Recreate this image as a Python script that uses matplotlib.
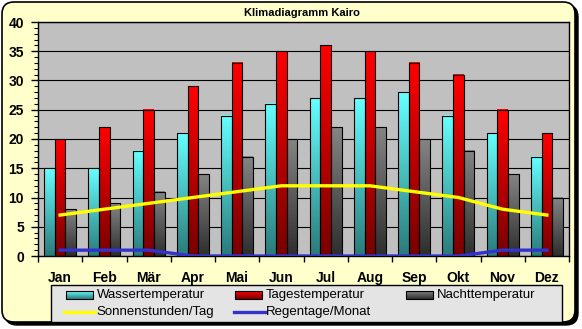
import numpy as np
import matplotlib
matplotlib.use("Agg")
import matplotlib.pyplot as plt
from matplotlib.patches import FancyBboxPatch, Rectangle

plt.rcParams['font.family'] = ['Liberation Sans', 'DejaVu Sans']

monate = ["Jan", "Feb", "Mär", "Apr", "Mai", "Jun", "Jul", "Aug", "Sep", "Okt", "Nov", "Dez"]
wasser = [15, 15, 18, 21, 24, 26, 27, 27, 28, 24, 21, 17]
tages = [20, 22, 25, 29, 33, 35, 36, 35, 33, 31, 25, 21]
nacht = [8, 9, 11, 14, 17, 20, 22, 22, 20, 18, 14, 10]
sonne = [7, 8, 9, 10, 11, 12, 12, 12, 11, 10, 8, 7]
regen = [1, 1, 1, 0, 0, 0, 0, 0, 0, 0, 1, 1]

W, H = 582, 329
fig = plt.figure(figsize=(W / 100, H / 100), dpi=100)
fig.patch.set_facecolor("white")


def px(v):
    return v / 100


# rahmen mit schatten
schatten = FancyBboxPatch((px(5), px(H - 325)), px(573), px(320),
                          boxstyle="round,pad=0,rounding_size=0.12",
                          transform=fig.dpi_scale_trans, facecolor="black",
                          edgecolor="black", zorder=-3)
rahmen = FancyBboxPatch((px(2), px(H - 322)), px(573), px(320),
                        boxstyle="round,pad=0,rounding_size=0.12",
                        transform=fig.dpi_scale_trans, facecolor="#FFFFCC",
                        edgecolor="black", linewidth=1.2, zorder=-2)
fig.patches.append(schatten)
fig.patches.append(rahmen)

ax = fig.add_axes([38 / W, (H - 256) / H, 531 / W, 234 / H])
ax.set_facecolor("#C0C0C0")

x = np.arange(len(monate))
bw = 0.24

# (oben, unten) farbverlauf je reihe
farben = [
    ((0.40, 1.00, 1.00), (0.17, 0.48, 0.48)),
    ((1.00, 0.00, 0.00), (0.47, 0.00, 0.00)),
    ((0.52, 0.52, 0.52), (0.18, 0.18, 0.18)),
]
reihen = [wasser, tages, nacht]


def verlauf(oben, unten):
    grad = np.linspace(0, 1, 128).reshape(-1, 1, 1)
    return np.array(unten) * (1 - grad) + np.array(oben) * grad


for i, (werte, (oben, unten)) in enumerate(zip(reihen, farben)):
    b = ax.bar(x + (i - 1) * bw, werte, bw, color="none", edgecolor="black",
               linewidth=0.8, zorder=3)
    farbe = verlauf(oben, unten)
    for rect in b:
        bx, by = rect.get_xy()
        bh = rect.get_height()
        if bh <= 0:
            continue
        ax.imshow(farbe, extent=[bx, bx + bw, by, by + bh], origin="lower",
                  aspect="auto", zorder=2.5, interpolation="bilinear")

ax.plot(x, sonne, color="#FFFF00", linewidth=2.4, zorder=4)
ax.plot(x, regen, color="#3333CC", linewidth=2.4, zorder=4)

ax.set_xlim(-0.5, 11.5)
ax.set_ylim(0, 40)
ax.set_yticks(range(0, 41, 5))
ax.set_yticks(range(0, 41, 1), minor=True)
ax.set_xticks(x)
ax.set_xticklabels(monate, fontsize=10, fontweight="bold")
ax.set_xticks(np.arange(-0.5, 12, 1), minor=True)
for lab in ax.get_yticklabels():
    lab.set_fontsize(10)
    lab.set_fontweight("bold")
ax.tick_params(axis="x", which="major", length=0, pad=11)
ax.tick_params(axis="x", which="minor", length=4, width=1, direction="out")
ax.tick_params(axis="y", which="major", length=5, width=1, direction="out", pad=5)
ax.tick_params(axis="y", which="minor", length=3, width=0.8, direction="out")
ax.yaxis.grid(True, which="major", color="black", linewidth=0.8, zorder=1)
ax.set_axisbelow(True)
for s in ax.spines.values():
    s.set_color("black")
    s.set_linewidth(1)

fig.text(302 / W, 1 - 13 / H, "Klimadiagramm Kairo", ha="center", va="center",
         fontsize=8, fontweight="bold")

# legende von hand, in pixelkoordinaten
lax = fig.add_axes([0, 0, 1, 1], zorder=5)
lax.axis("off")
lax.add_patch(Rectangle((51, 285), 511, 37, facecolor="#E4E4E4",
                        edgecolor="black", linewidth=1, zorder=1))

eintraege = [
    ("bar", 0, 66, 295, "Wassertemperatur"),
    ("bar", 1, 235, 295, "Tagestemperatur"),
    ("bar", 2, 406, 295, "Nachttemperatur"),
    ("line", "#FFFF00", 64, 312, "Sonnenstunden/Tag"),
    ("line", "#3333CC", 234, 312, "Regentage/Monat"),
]
for art, wert, ex, ey, text in eintraege:
    if art == "bar":
        oben, unten = farben[wert]
        lax.imshow(verlauf(oben, unten)[::-1], extent=[ex, ex + 27, ey + 4, ey - 4],
                   aspect="auto", interpolation="bilinear", zorder=2)
        lax.add_patch(Rectangle((ex, ey - 4), 27, 8, fill=False,
                                edgecolor="black", linewidth=0.8, zorder=3))
        tx = ex + 31
    else:
        lax.plot([ex, ex + 31], [ey, ey], color=wert, linewidth=2.4, zorder=3)
        tx = ex + 32
    lax.text(tx, ey, text, fontsize=9.5, ha="left", va="center", zorder=3)
lax.set_xlim(0, W)
lax.set_ylim(H, 0)

fig.savefig("out.png", dpi=100, facecolor=fig.get_facecolor())
